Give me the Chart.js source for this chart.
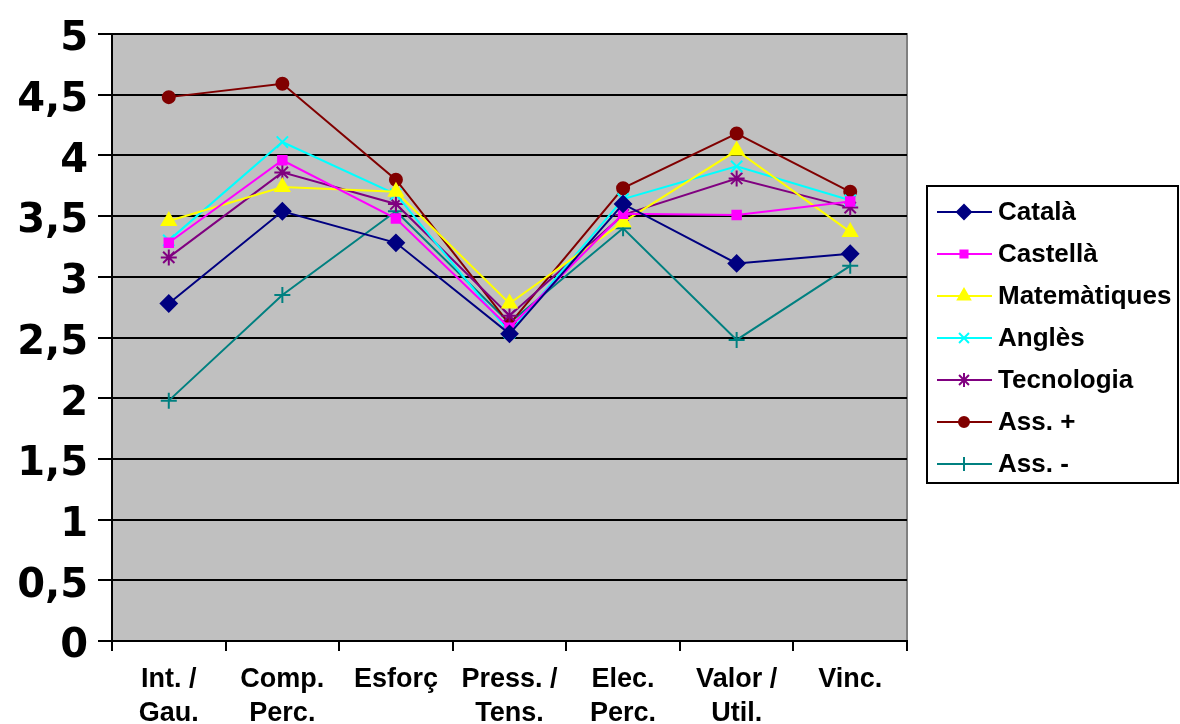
<!DOCTYPE html>
<html lang="ca">
<head>
  <meta charset="UTF-8" />
  <title>Valoració per assignatura</title>
  <script src="https://cdn.jsdelivr.net/npm/chart.js"></script>
  <style>
    body { margin: 0; background: #ffffff; }
    .wrap { width: 1180px; height: 724px; position: relative; }
  </style>
</head>
<body>
  <div class="wrap"><canvas id="grafic" width="1180" height="724"></canvas></div>

  <script>
    // categories (eix X) i valors de cada sèrie
    const categories = [['Int. /', 'Gau.'], ['Comp.', 'Perc.'], ['Esforç'], ['Press. /', 'Tens.'], ['Elec.', 'Perc.'], ['Valor /', 'Util.'], ['Vinc.']];
    const catala       = [2.78, 3.54, 3.28, 2.53, 3.60, 3.11, 3.19];
    const castella     = [3.28, 3.96, 3.48, 2.58, 3.52, 3.51, 3.62];
    const matematiques = [3.46, 3.74, 3.70, 2.78, 3.45, 4.04, 3.37];
    const angles       = [3.30, 4.11, 3.68, 2.54, 3.64, 3.91, 3.63];
    const tecnologia   = [3.16, 3.86, 3.60, 2.68, 3.51, 3.81, 3.57];
    const assPlus      = [4.48, 4.59, 3.80, 2.61, 3.73, 4.18, 3.70];
    const assMinus     = [1.98, 2.85, 3.54, 2.62, 3.40, 2.48, 3.09];
    const yTicks = [0, 0.5, 1, 1.5, 2, 2.5, 3, 3.5, 4, 4.5, 5];

    const serie = (label, data, color, style, radius) => ({
      label, data,
      borderColor: color,
      backgroundColor: color,
      pointBackgroundColor: color,
      pointBorderColor: color,
      pointStyle: style,
      pointRadius: radius,
      pointBorderWidth: 2,
      borderWidth: 2,
      tension: 0,
      fill: false
    });

    const datasets = [
      serie('Català', catala, '#000080', 'rectRot', 8),
      serie('Castellà', castella, '#ff00ff', 'rect', 6),
      serie('Matemàtiques', matematiques, '#ffff00', 'triangle', 8),
      serie('Anglès', angles, '#00ffff', 'crossRot', 8),
      serie('Tecnologia', tecnologia, '#800080', 'star', 8),
      serie('Ass. +', assPlus, '#800000', 'circle', 6),
      serie('Ass. -', assMinus, '#008080', 'cross', 8)
    ];

    // fons gris de l'àrea del gràfic
    const fonsArea = {
      id: 'fonsArea',
      beforeDraw(chart) {
        const { ctx, chartArea: a } = chart;
        ctx.save();
        ctx.fillStyle = '#ffffff';
        ctx.fillRect(0, 0, chart.width, chart.height);
        ctx.fillStyle = '#c0c0c0';
        ctx.fillRect(a.left, a.top, a.right - a.left, a.bottom - a.top);
        ctx.strokeStyle = '#808080';
        ctx.lineWidth = 2;
        ctx.strokeRect(a.left, a.top, a.right - a.left, a.bottom - a.top);
        ctx.restore();
      }
    };

    // llegenda amb línia + marcador, com a l'original
    const llegenda = {
      id: 'llegenda',
      afterDraw(chart) {
        const ctx = chart.ctx;
        const x0 = 927, y0 = 186, w = 251, h = 297;
        ctx.save();
        ctx.strokeStyle = '#000';
        ctx.lineWidth = 2;
        ctx.strokeRect(x0, y0, w, h);
        ctx.font = 'bold 26px "Liberation Sans", Arial, sans-serif';
        ctx.textBaseline = 'middle';
        chart.data.datasets.forEach((ds, i) => {
          const y = 212 + i * 42;
          ctx.strokeStyle = ds.borderColor;
          ctx.fillStyle = ds.borderColor;
          ctx.lineWidth = 2;
          ctx.beginPath();
          ctx.moveTo(937, y);
          ctx.lineTo(992, y);
          ctx.stroke();
          Chart.helpers.drawPoint(ctx, {
            pointStyle: ds.pointStyle,
            rotation: 0,
            radius: ds.pointRadius - 1,
            borderWidth: 2
          }, 964, y);
          ctx.fillStyle = '#000';
          ctx.fillText(ds.label, 998, y + 1);
        });
        ctx.restore();
      }
    };

    new Chart(document.getElementById('grafic'), {
      type: 'line',
      data: { labels: categories, datasets },
      plugins: [fonsArea, llegenda],
      options: {
        responsive: false,
        animation: false,
        devicePixelRatio: 1,
        layout: { padding: { top: 33, right: 273, left: 0, bottom: 0 } },
        plugins: { legend: { display: false }, tooltip: { enabled: false } },
        scales: {
          x: {
            offset: true,
            afterFit: s => { s.height = 83; },
            border: { color: '#000', width: 2 },
            grid: { offset: true, drawOnChartArea: false, drawTicks: true, tickLength: 10, color: '#000', lineWidth: 2 },
            ticks: {
              color: '#000',
              padding: 12,
              maxRotation: 0,
              autoSkip: false,
              font: { family: '"Liberation Sans Narrow", "Arial Narrow", Arial, sans-serif', weight: 'bold', size: 27, lineHeight: 1.25 }
            }
          },
          y: {
            min: 0,
            max: 5,
            afterFit: s => { s.width = 112; },
            afterBuildTicks: s => { s.ticks = yTicks.map(v => ({ value: v })); },
            border: { color: '#000', width: 2 },
            grid: { color: '#000', lineWidth: 2, drawTicks: true, tickLength: 14 },
            ticks: {
              color: '#000',
              padding: 10,
              labelOffset: 6,
              callback: v => String(v).replace('.', ','),
              font: { family: '"DejaVu Sans", sans-serif', weight: 'bold', size: 40 }
            }
          }
        }
      }
    });
  </script>
</body>
</html>
